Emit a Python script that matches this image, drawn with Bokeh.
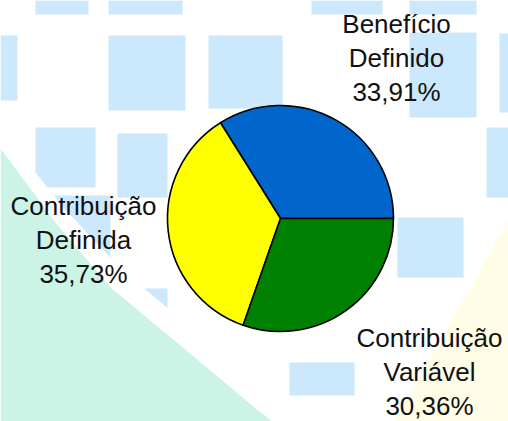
import math
from bokeh.plotting import figure
from bokeh.models import Range1d, ColumnDataSource
from bokeh.core.properties import value
from bokeh.embed import file_html
from bokeh.resources import INLINE

# ---- data ----
categories = ["Benefício Definido", "Contribuição Definida", "Contribuição Variável"]
shares = [33.91, 35.73, 30.36]
colors = ["#0066CC", "#FFFF00", "#008000"]

# ---- layout (reference pixel space, y measured from the top) ----
W, H = 508, 421
CX, CY, R = 280, 218, 113
label_anchor = [(396, 33), (83, 215), (429, 347)]   # centre x, first baseline y
LINE_STEP = 34

p = figure(width=W, height=H, output_backend="svg", toolbar_location=None,
           x_range=Range1d(0, W), y_range=Range1d(0, H),
           background_fill_color="white", border_fill_color="white",
           min_border=0, outline_line_color=None)
p.axis.visible = False
p.grid.visible = False

def fy(y):
    return H - y

# ---- decorative background (watermark) ----
squares = [(35, 88, 0, 14), (108, 182, 0, 14), (311, 382, 0, 14), (409, 476, 0, 14),
           (0, 17, 35, 100), (108, 185, 35, 110), (208, 282, 35, 108), (409, 476, 32, 117),
           (499, 508, 33, 112), (35, 95, 127, 187), (117, 167, 133, 197), (486, 508, 127, 197),
           (397, 463, 217, 277), (50, 110, 195, 262), (137, 167, 288, 323), (289, 354, 362, 395)]
p.quad(left=[s[0] for s in squares], right=[s[1] for s in squares],
       top=[fy(s[2]) for s in squares], bottom=[fy(s[3]) for s in squares],
       fill_color="#CCE8FC", line_color=None)
band = [(0, 128), (62, 206), (122, 270), (192, 328), (266, 392), (292, 421), (0, 421)]
p.patch([b[0] for b in band], [fy(b[1]) for b in band], fill_color="white", line_color=None)
mint = [(0, 148), (55, 222), (110, 287), (180, 345), (254, 407), (272, 421), (0, 421)]
p.patch([m[0] for m in mint], [fy(m[1]) for m in mint], fill_color="#CBF3E6", line_color=None)
yel = [(508, 220), (394, 421), (508, 421)]
p.patch([m[0] for m in yel], [fy(m[1]) for m in yel], fill_color="#FFFDE6", line_color=None)

# ---- pie ----
total = sum(shares)
starts, ends = [], []
acc = 0.0
for v in shares:
    starts.append(2 * math.pi * acc / total)
    acc += v
    ends.append(2 * math.pi * acc / total)
src = ColumnDataSource(dict(start=starts, end=ends, color=colors))
p.wedge(x=CX, y=fy(CY), radius=R, start_angle="start", end_angle="end",
        fill_color="color", line_color="black", line_width=1.6, source=src)

# ---- labels ----
tx, ty, tt = [], [], []
for (ax, ay), name, v in zip(label_anchor, categories, shares):
    lines = name.split(" ") + [f"{v:.2f}".replace(".", ",") + "%"]
    for i, ln in enumerate(lines):
        tx.append(ax)
        ty.append(fy(ay + i * LINE_STEP))
        tt.append(ln)
p.text(x=tx, y=ty, text=tt, text_align="center", text_baseline="alphabetic",
       y_offset=-10,
       text_font=value("Liberation Sans"), text_font_size="26px", text_color="#111111")

open("out.html", "w").write(file_html(p, INLINE))
